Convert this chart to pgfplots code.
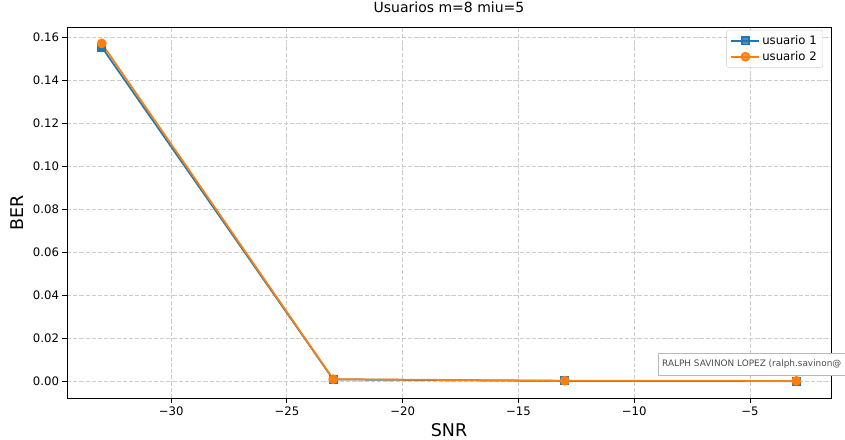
\documentclass[border=0pt]{standalone}
\usepackage{fontspec}
\setmainfont{DejaVu Sans}
\usepackage{pgfplots}
\pgfplotsset{compat=1.18}
\definecolor{tabblue}{HTML}{1F77B4}
\definecolor{taborange}{HTML}{FF7F0E}
\definecolor{gridgray}{HTML}{CCCCCC}
\begin{document}
\begin{tikzpicture}
\begin{axis}[
  name=ax,
  scale only axis,
  width=764bp, height=371bp,
  xmin=-34.5, xmax=-1.5,
  ymin=-0.00785, ymax=0.16485,
  xtick={-30,-25,-20,-15,-10,-5},
  xticklabels={−30,−25,−20,−15,−10,−5},
  ytick={0,0.02,0.04,0.06,0.08,0.10,0.12,0.14,0.16},
  yticklabel style={/pgf/number format/.cd, fixed, fixed zerofill, precision=2},
  /pgf/number format/assume math mode=true,
  scaled y ticks=false,
  tick align=outside,
  xtick pos=bottom, ytick pos=left,
  major tick length=4.5bp,
  tick style={black, line width=0.9bp},
  tick label style={font=\fontsize{11.7bp}{14bp}\selectfont},
  xticklabel style={yshift=-1bp},
  axis line style={line width=0.9bp, black},
  grid=major,
  major grid style={gridgray, line width=0.9bp, dash pattern=on 4.3bp off 1.9bp},
  title={Usuarios m=8 miu=5},
  title style={font=\fontsize{14bp}{17bp}\selectfont, at={(axis description cs:0.5,1.023)}, anchor=base},
  xlabel={SNR},
  ylabel={BER},
  xlabel style={font=\fontsize{17.5bp}{21bp}\selectfont, at={(axis description cs:0.5,-0.1051)}, anchor=base},
  ylabel style={font=\fontsize{17.5bp}{21bp}\selectfont, at={(axis description cs:-0.0563,0.5)}, anchor=base},
  legend style={at={(axis description cs:0.9895,0.992)}, anchor=north east,
    draw=gridgray, rounded corners=2bp, fill=white, fill opacity=0.8, text opacity=1,
    font=\fontsize{11.7bp}{14bp}\selectfont, row sep=1.5bp, inner xsep=4bp, inner ysep=3.5bp,
    /tikz/every even column/.append style={column sep=3bp}},
  legend cell align=left,
  legend image code/.code={\draw[mark repeat=2, mark phase=2] plot coordinates {(0bp,0bp) (14bp,0bp) (28bp,0bp)};},
]
\addplot[color=tabblue, line width=1.75bp, mark=square*, mark size=3.6bp, mark options={solid, fill=tabblue}]
  coordinates {(-33,0.1555) (-23,0.0008) (-13,0.0001) (-3,0.0000)};
\addlegendentry{usuario 1}
\addplot[color=taborange, line width=1.75bp, mark=*, mark size=4bp, mark options={solid, fill=taborange}]
  coordinates {(-33,0.1572) (-23,0.0009) (-13,0.0002) (-3,0.0001)};
\addlegendentry{usuario 2}
\end{axis}
\draw[gray!55, fill=white, line width=0.6bp]
  ([xshift=591bp, yshift=23bp]ax.south west) rectangle ([xshift=800bp, yshift=45bp]ax.south west);
\node[anchor=west, inner xsep=0bp, font=\fontsize{8.9bp}{11bp}\selectfont, text=black!70]
  at ([xshift=595bp, yshift=34bp]ax.south west) {RALPH SAVINON LOPEZ (ralph.savinon@};
\pgfresetboundingbox
\path ([xshift=-67bp, yshift=-42bp]ax.south west) rectangle ([xshift=14bp, yshift=27bp]ax.north east);
\end{tikzpicture}
\end{document}
